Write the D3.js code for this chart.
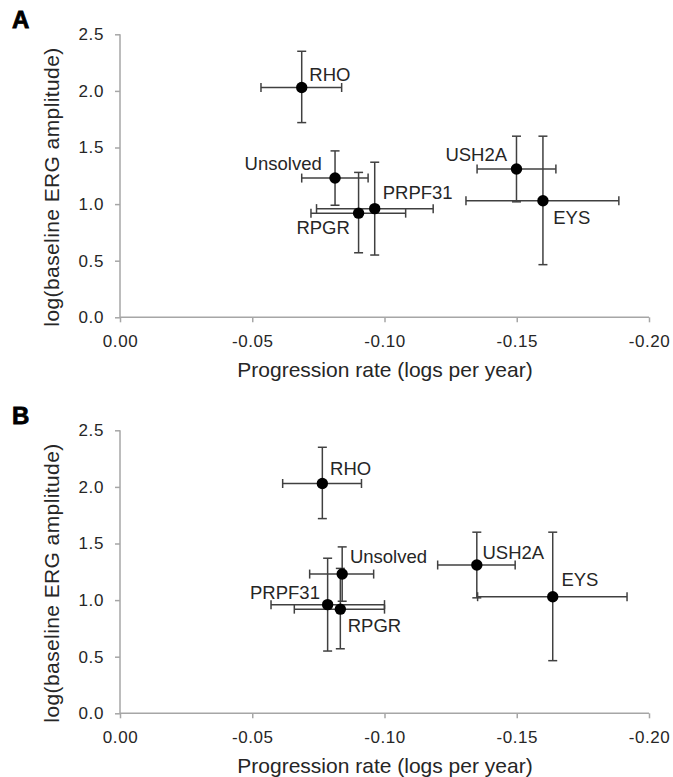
<!DOCTYPE html>
<html>
<head>
<meta charset="utf-8">
<script src="https://cdn.jsdelivr.net/npm/d3@7"></script>
<style>
  body { margin: 0; background: #fff; }
  text { font-family: "Liberation Sans", Arial, sans-serif; }
</style>
</head>
<body>
<svg id="chart" width="673" height="777"></svg>
<script>
// gene groups, same order in every array
const genes = ["RHO", "Unsolved", "PRPF31", "RPGR", "USH2A", "EYS"];

// log(baseline ERG amplitude), same in both panels
const ergLog  = [2.03, 1.23, 0.96, 0.92, 1.31, 1.03];
const ergLow  = [1.72, 0.99, 0.55, 0.57, 1.02, 0.465];
const ergHigh = [2.35, 1.47, 1.37, 1.28, 1.60, 1.60];

// progression rate, panel A
const rateA     = [-0.0687, -0.0813, -0.0963, -0.0902, -0.1499, -0.1599];
const rateALow  = [-0.0533, -0.0687, -0.0743, -0.0722, -0.1350, -0.1308];
const rateAHigh = [-0.0838, -0.0938, -0.1184, -0.1080, -0.1648, -0.1886];

// progression rate, panel B
const rateB     = [-0.0765, -0.0840, -0.0785, -0.0833, -0.1349, -0.1636];
const rateBLow  = [-0.0615, -0.0717, -0.0571, -0.0659, -0.1201, -0.1352];
const rateBHigh = [-0.0913, -0.0959, -0.1000, -0.1000, -0.1494, -0.1917];

const xTicks = [0, -0.05, -0.10, -0.15, -0.20];
const yTicks = [0, 0.5, 1.0, 1.5, 2.0, 2.5];

// label offsets from the dot (dx, dy, anchor)
const labA = [[7.6, -6.6, "start"], [-13.3, -7.7, "end"], [8, -9.3, "start"],
              [-8.7, 21, "end"], [-9.4, -7.7, "end"], [10.3, 23.7, "start"]];
const labB = [[7.7, -8.3, "start"], [7.7, -11.3, "start"], [-7.7, -6, "end"],
              [7.4, 23.3, "start"], [5.7, -5.7, "start"], [8.7, -10.3, "start"]];

const svg = d3.select("#chart");
const axisCol = "#a6a6a6", barCol = "#404040", txtCol = "#262626";
const fmtX = d => d3.format(".2f")(d).replace("\u2212", "-");
const fmtY = d => d3.format(".1f")(d);

const x = d3.scaleLinear().domain([0, -0.2]).range([120, 649]);

function panel(top, letter, rate, rLow, rHigh, labs) {
  const g = svg.append("g").attr("transform", `translate(0,${top})`);
  const y = d3.scaleLinear().domain([0, 2.5]).range([317.3, 34.3]);

  g.append("text").attr("x", 12).attr("y", 28).text(letter)
    .attr("font-size", 24).attr("font-weight", "bold")
    .attr("stroke", "#000").attr("stroke-width", 0.8).attr("fill", "#000");

  // axes
  const ax = g.append("g").attr("transform", `translate(0,${y(0)})`)
    .call(d3.axisBottom(x).tickValues(xTicks).tickFormat(fmtX).tickSize(5).tickPadding(13));
  const ay = g.append("g").attr("transform", `translate(${x(0)},0)`)
    .call(d3.axisLeft(y).tickValues(yTicks).tickFormat(fmtY).tickSize(5).tickPadding(11));
  [ax, ay].forEach(a => {
    a.selectAll("path, line").attr("stroke", axisCol).attr("stroke-width", 1.5);
    a.select(".domain").attr("d", null);
    a.selectAll("text").attr("font-size", 17).attr("fill", txtCol)
      .attr("font-family", "'Liberation Sans', Arial, sans-serif")
      .attr("letter-spacing", 0.6);
  });
  ax.append("line").attr("x1", x(0)).attr("x2", x(-0.2))
    .attr("stroke", axisCol).attr("stroke-width", 1.5);
  ay.append("line").attr("y1", y(0)).attr("y2", y(2.5))
    .attr("stroke", axisCol).attr("stroke-width", 1.5);

  g.append("text").attr("x", 385).attr("y", 376.7).attr("text-anchor", "middle")
    .attr("font-size", 21).attr("fill", txtCol)
    .text("Progression rate (logs per year)");
  g.append("text").attr("transform", "translate(58.5,187) rotate(-90)")
    .attr("text-anchor", "middle").attr("font-size", 21).attr("fill", txtCol)
    .attr("letter-spacing", 0.4)
    .text("log(baseline ERG amplitude)");

  const cap = 4.5;
  const pts = g.append("g");
  genes.forEach((name, i) => {
    const cx = x(rate[i]), cy = y(ergLog[i]);
    const bars = pts.append("g").attr("stroke", barCol).attr("stroke-width", 1.5);
    // horizontal error bar
    bars.append("line").attr("x1", x(rLow[i])).attr("x2", x(rHigh[i])).attr("y1", cy).attr("y2", cy);
    [rLow[i], rHigh[i]].forEach(v => bars.append("line")
      .attr("x1", x(v)).attr("x2", x(v)).attr("y1", cy - cap).attr("y2", cy + cap));
    // vertical error bar
    bars.append("line").attr("x1", cx).attr("x2", cx).attr("y1", y(ergLow[i])).attr("y2", y(ergHigh[i]));
    [ergLow[i], ergHigh[i]].forEach(v => bars.append("line")
      .attr("x1", cx - cap).attr("x2", cx + cap).attr("y1", y(v)).attr("y2", y(v)));
  });
  genes.forEach((name, i) => {
    const cx = x(rate[i]), cy = y(ergLog[i]);
    pts.append("circle").attr("cx", cx).attr("cy", cy).attr("r", 5.7).attr("fill", "#000");
    pts.append("text").attr("x", cx + labs[i][0]).attr("y", cy + labs[i][1])
      .attr("text-anchor", labs[i][2]).attr("font-size", 18.5).attr("fill", txtCol)
      .text(name);
  });
}

panel(0, "A", rateA, rateALow, rateAHigh, labA);
panel(396, "B", rateB, rateBLow, rateBHigh, labB);
</script>
</body>
</html>
